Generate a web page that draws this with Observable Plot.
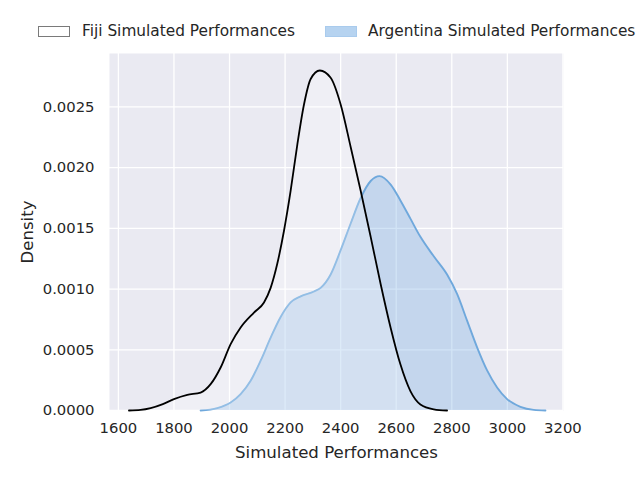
<!DOCTYPE html>
<html>
<head>
<meta charset="utf-8">
<script src="https://cdn.jsdelivr.net/npm/d3@7"></script>
<script src="https://cdn.jsdelivr.net/npm/@observablehq/plot@0.6"></script>
<style>
  html, body { margin: 0; padding: 0; background: #ffffff; }
  body { width: 640px; height: 480px; overflow: hidden; font-family: "DejaVu Sans", sans-serif; color: #262626; }
  #legend { position: relative; height: 44px; width: 640px; }
  #legend .sw { position: absolute; box-sizing: border-box; height: 11px; width: 32px; top: 26px; }
  #legend .lb { position: absolute; top: 22px; line-height: 18px; font-size: 15.35px; white-space: nowrap; }
  svg { display: block; }
</style>
</head>
<body>
<div id="legend"></div>
<div id="chart"></div>
<script>
// Series names
const seriesNames = ["Fiji Simulated Performances", "Argentina Simulated Performances"];

// Fiji KDE curve
const fijiX = [1638, 1680, 1716, 1760, 1800, 1848, 1896, 1932, 1968, 2004, 2040, 2088, 2124, 2148, 2172, 2196, 2220, 2244, 2268, 2292, 2325, 2364, 2400, 2436, 2472, 2508, 2544, 2580, 2615, 2651, 2687, 2735, 2783];
const fijiY = [0, 0.000005, 0.00002, 0.000053, 0.000094, 0.000129, 0.000148, 0.000217, 0.000354, 0.000547, 0.000684, 0.000807, 0.00089, 0.00101, 0.00121, 0.00148, 0.00181, 0.00219, 0.00252, 0.00273, 0.00280, 0.00274, 0.00252, 0.00217, 0.00181, 0.00143, 0.00104, 0.00068, 0.00038, 0.00016, 0.00005, 0.00001, 0];

// Argentina KDE curve
const argX = [1896, 1956, 2004, 2040, 2076, 2112, 2148, 2184, 2220, 2256, 2304, 2328, 2364, 2400, 2436, 2472, 2508, 2540, 2580, 2615, 2651, 2687, 2735, 2783, 2819, 2855, 2891, 2927, 2963, 2999, 3047, 3095, 3137];
const argY = [0, 0.00002, 0.000066, 0.000135, 0.000245, 0.00041, 0.0006, 0.00077, 0.00089, 0.00094, 0.00098, 0.00101, 0.00112, 0.00132, 0.00154, 0.00175, 0.00189, 0.00193, 0.00186, 0.00173, 0.00158, 0.00143, 0.00127, 0.00112, 0.00096, 0.00074, 0.00052, 0.00033, 0.00019, 0.000094, 0.00003, 0.000005, 0];

// Ticks
const xTicks = [1600, 1800, 2000, 2200, 2400, 2600, 2800, 3000, 3200];
const yTicks = [0, 0.0005, 0.0010, 0.0015, 0.0020, 0.0025];

const xLabel = "Simulated Performances";
const yLabel = "Density";

const fiji = fijiX.map((x, i) => ({x, y: fijiY[i]}));
const arg = argX.map((x, i) => ({x, y: argY[i]}));

// Legend
const legend = document.getElementById("legend");
legend.innerHTML = `
  <div class="sw" style="left:38px;background:#ffffff;border:1px solid #7a7a7a;"></div>
  <div class="lb" style="left:82px;">${seriesNames[0]}</div>
  <div class="sw" style="left:325px;background:#b6d3f0;border:1px solid #a9cbed;"></div>
  <div class="lb" style="left:368px;">${seriesNames[1]}</div>`;

const blueLine = "#6fa8dc";
const chart = Plot.plot({
  width: 640,
  height: 436,
  marginTop: 9,
  marginBottom: 70,
  marginLeft: 109,
  marginRight: 77,
  style: {fontFamily: "DejaVu Sans, sans-serif", fontSize: "14.8px", color: "#262626", background: "white"},
  x: {domain: [1568, 3202], ticks: xTicks, tickFormat: d => String(d), label: null},
  y: {domain: [0, 0.00294], ticks: yTicks, tickFormat: d3.format(".4f"), label: null},
  marks: [
    Plot.frame({fill: "#eaeaf2", stroke: null}),
    Plot.gridX(xTicks, {stroke: "white", strokeOpacity: 1, strokeWidth: 1.3}),
    Plot.gridY(yTicks, {stroke: "white", strokeOpacity: 1, strokeWidth: 1.3}),
    Plot.areaY(arg, {x: "x", y: "y", fill: "#74ace3", fillOpacity: 0.32, curve: "monotone-x"}),
    Plot.lineY(arg, {x: "x", y: "y", stroke: blueLine, strokeWidth: 1.9, curve: "monotone-x"}),
    Plot.areaY(fiji, {x: "x", y: "y", fill: "white", fillOpacity: 0.25, curve: "monotone-x"}),
    Plot.lineY(fiji, {x: "x", y: "y", stroke: "black", strokeWidth: 1.8, curve: "monotone-x"}),
    Plot.axisX(xTicks, {tickSize: 0, tickPadding: 12, tickFormat: d => String(d), fill: "#262626", fontSize: 14.8, label: null}),
    Plot.axisY(yTicks, {tickSize: 0, tickPadding: 15, tickFormat: d3.format(".4f"), fill: "#262626", fontSize: 14.8, label: null}),
    Plot.text([xLabel], {frameAnchor: "bottom", dy: 42, text: d => d, lineAnchor: "middle", textAnchor: "middle", fontSize: 16.6, fill: "#262626"}),
    Plot.text([yLabel], {frameAnchor: "left", dx: -82, text: d => d, rotate: -90, lineAnchor: "middle", textAnchor: "middle", fontSize: 16.6, fill: "#262626"})
  ]
});
document.getElementById("chart").appendChild(chart);
</script>
</body>
</html>
